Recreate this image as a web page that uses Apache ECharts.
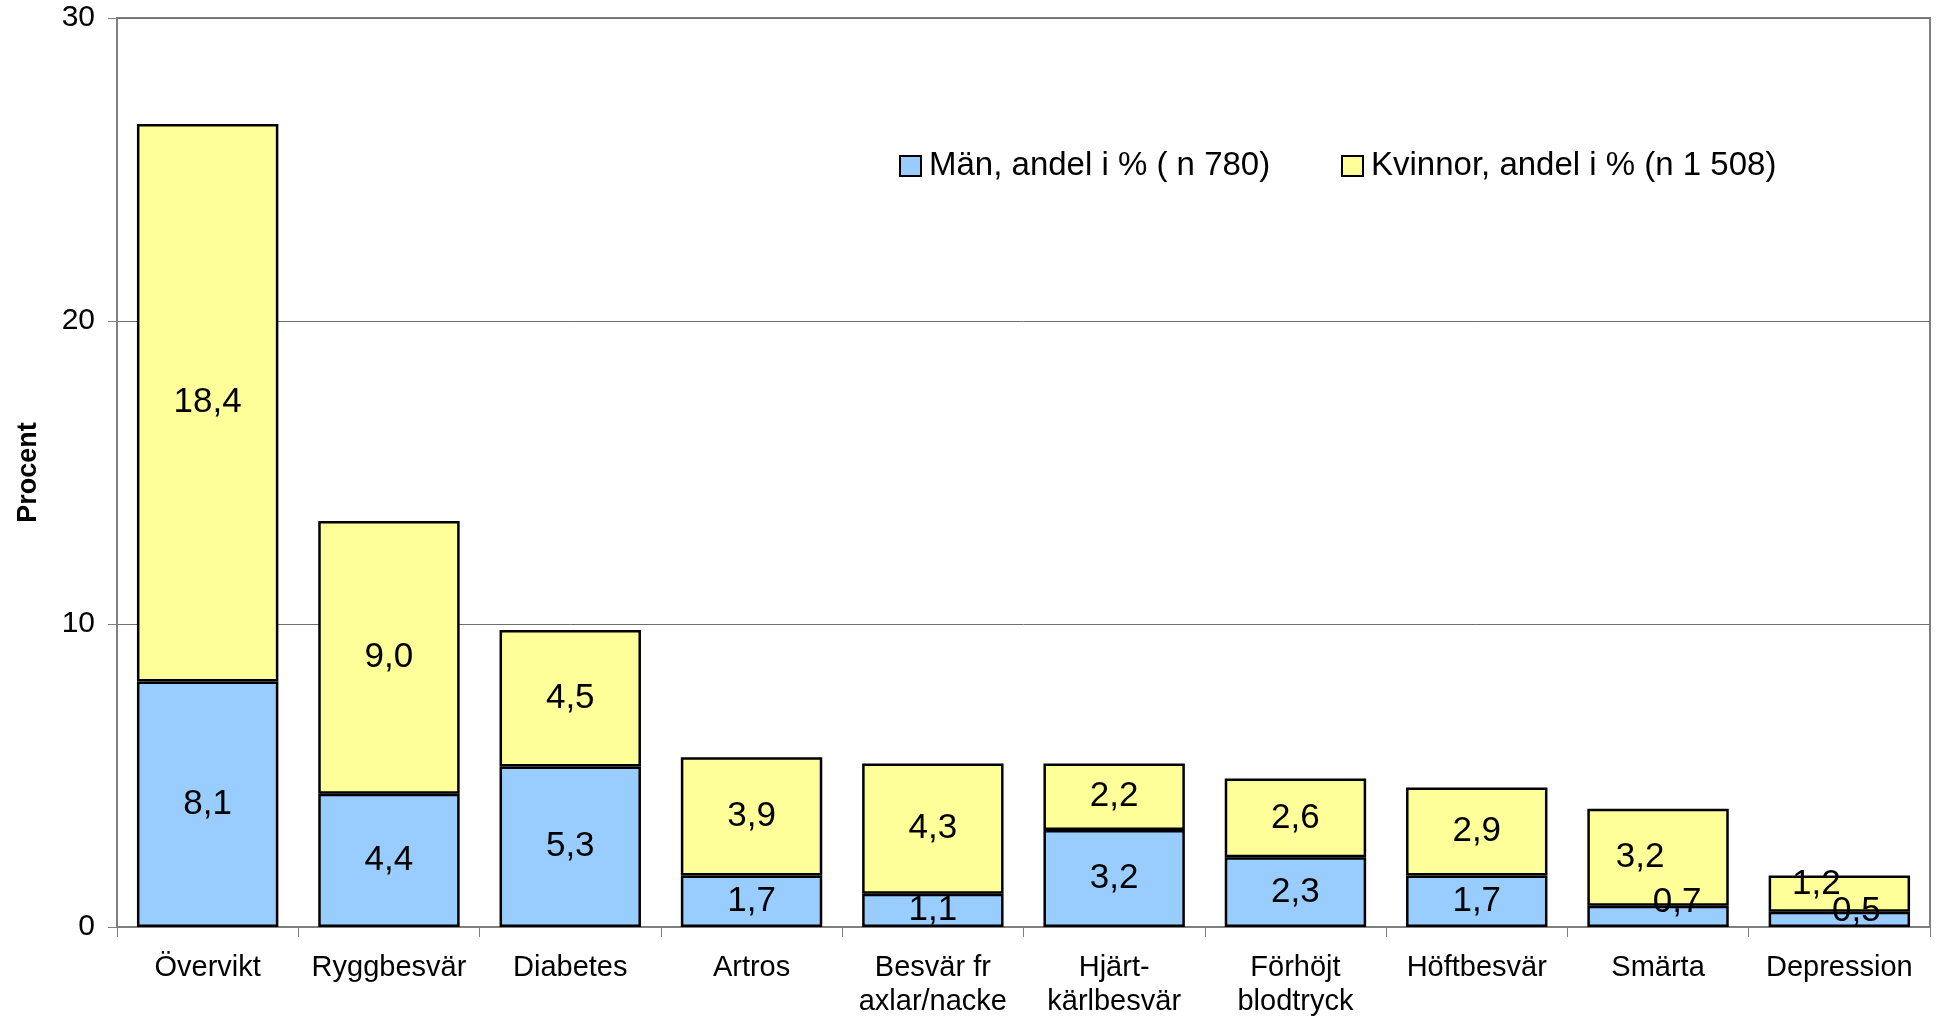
<!DOCTYPE html>
<html>
<head>
<meta charset="utf-8">
<script src="https://cdn.jsdelivr.net/npm/echarts@6/dist/echarts.min.js"></script>
<style>
html,body{margin:0;padding:0;background:#fff;}
#chart{width:1939px;height:1016px;}
</style>
</head>
<body>
<div id="chart"></div>
<script>
const categories = ['Övervikt','Ryggbesvär','Diabetes','Artros','Besvär fr\naxlar/nacke','Hjärt-\nkärlbesvär','Förhöjt\nblodtryck','Höftbesvär','Smärta','Depression'];
const menValues = [8.1, 4.4, 5.3, 1.7, 1.1, 3.2, 2.3, 1.7, 0.7, 0.5];
const womenValues = [18.4, 9.0, 4.5, 3.9, 4.3, 2.2, 2.6, 2.9, 3.2, 1.2];
const menName = 'Män, andel i % ( n 780)';
const womenName = 'Kvinnor, andel i % (n 1 508)';
const yTicks = [0, 10, 20, 30];

// label nudges for the small segments, as in the reference
const menLabelOffsets = {8: [19, -14], 9: [17, -8]};
const womenLabelOffsets = {8: [-18, 0], 9: [-23, -9]};

const FONT = '"Liberation Sans", Arial, sans-serif';
const fmt = p => p.value.toFixed(1).replace('.', ',');

function buildData(values, offsets) {
  return values.map((v, i) => offsets[i] ? {value: v, label: {offset: offsets[i]}} : v);
}

const chart = echarts.init(document.getElementById('chart'), null, {renderer: 'canvas'});
const legendCommon = {
  top: 143, itemWidth: 21, itemHeight: 20, icon: 'rect',
  textStyle: {fontFamily: FONT, fontSize: 33, color: '#000', lineHeight: 36, padding: [0, 0, 0, 3]},
  itemStyle: {borderColor: '#000', borderWidth: 2}
};
chart.setOption({
  animation: false,
  backgroundColor: '#fff',
  legend: [
    Object.assign({left: 894, data: [menName]}, legendCommon),
    Object.assign({left: 1336, data: [womenName]}, legendCommon)
  ],
  grid: {left: 117, right: 9, top: 18, bottom: 89, show: true, borderColor: '#808080', borderWidth: 2,
    containLabel: false, outerBoundsMode: 'none'},
  xAxis: {
    type: 'category', data: categories,
    axisLine: {lineStyle: {color: '#808080', width: 2}},
    axisTick: {show: true, length: 10, lineStyle: {color: '#808080', width: 1}},
    axisLabel: {fontFamily: FONT, fontSize: 29, color: '#000', margin: 24, lineHeight: 34, interval: 0}
  },
  yAxis: {
    type: 'value', min: 0, max: 30, interval: 10,
    name: 'Procent', nameLocation: 'middle', nameGap: 75, nameRotate: 90,
    nameTextStyle: {fontFamily: FONT, fontSize: 27, fontWeight: 'bold', color: '#000'},
    axisLine: {show: true, lineStyle: {color: '#808080', width: 2}},
    axisTick: {show: true, length: 9, lineStyle: {color: '#808080', width: 1}},
    axisLabel: {fontFamily: FONT, fontSize: 30, color: '#000', margin: 22,
      formatter: v => yTicks.includes(v) ? String(v) : ''},
    splitLine: {show: true, lineStyle: {color: '#6e6e6e', width: 1}}
  },
  series: [
    {
      name: menName, type: 'bar', stack: 'total', barCategoryGap: '22%',
      data: buildData(menValues, menLabelOffsets),
      itemStyle: {color: '#99CCFF', borderColor: '#000', borderWidth: 2.5},
      label: {show: true, position: 'inside', formatter: fmt, fontFamily: FONT, fontSize: 35, color: '#000'}
    },
    {
      name: womenName, type: 'bar', stack: 'total', barCategoryGap: '22%',
      data: buildData(womenValues, womenLabelOffsets),
      itemStyle: {color: '#FFFF99', borderColor: '#000', borderWidth: 2.5},
      label: {show: true, position: 'inside', formatter: fmt, fontFamily: FONT, fontSize: 35, color: '#000'}
    }
  ]
});
</script>
</body>
</html>
